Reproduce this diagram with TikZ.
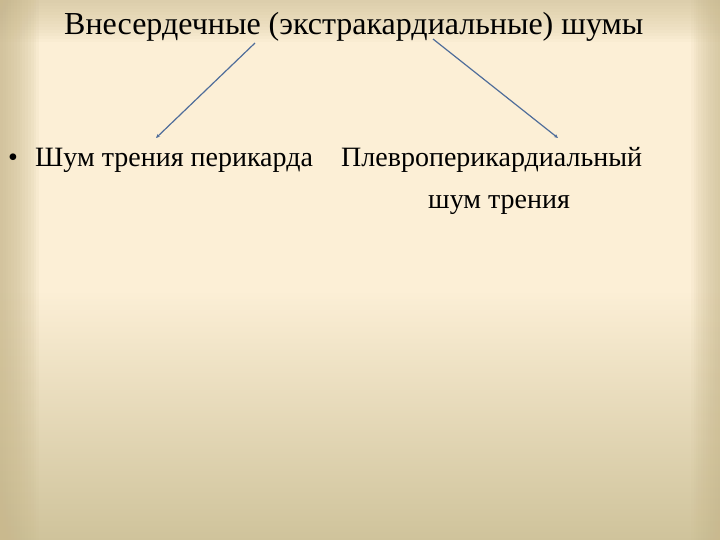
\documentclass[tikz,border=0pt]{standalone}
\usepackage{fontspec}
\setmainfont{Liberation Serif}
\usetikzlibrary{arrows.meta}
\definecolor{cream}{HTML}{FCEFD6}
\definecolor{tan}{HTML}{C9B98E}
\definecolor{bot}{HTML}{CFC39B}
\definecolor{arrowblue}{HTML}{4F6D9A}
\tikzset{
  txt/.style={font=\fontsize{28}{34}\selectfont, text=black, inner sep=0pt, anchor=base west},
  conn/.style={draw=arrowblue, line width=1.2pt, -{Stealth[length=4pt,width=3.5pt]}}
}
\begin{document}
\begin{tikzpicture}[x=1pt,y=-1pt]
\useasboundingbox (0,0) rectangle (720,540);
% background
\fill[cream] (0,0) rectangle (720,540);
\shade[top color=cream, bottom color=bot] (0,290) rectangle (720,540);
\foreach \i in {1,...,14} \fill[tan, fill opacity=0.09] (0,0) rectangle (\i*2.8,540);
\foreach \i in {1,...,14} \fill[tan, fill opacity=0.05] (0,0) rectangle (720,\i*3);
\foreach \i in {1,...,12} \fill[tan, fill opacity=0.08] (720-\i*2.4,0) rectangle (720,540);
% texts
\node[txt, font=\fontsize{32}{38}\selectfont] (title) at (64,35) {Внесердечные (экстракардиальные) шумы};
\node[txt] (bul) at (8,167) {•};
\node[txt] (left) at (35,167) {Шум трения перикарда};
\node[txt] (right1) at (341,167) {Плевроперикардиальный};
\node[txt] (right2) at (428,208) {шум трения};
% connectors
\coordinate (ls) at (255,43);
\coordinate (le) at (156,138);
\coordinate (rs) at (433,39);
\coordinate (re) at (558,138);
\draw[conn] (ls) -- (le);
\draw[conn] (rs) -- (re);
\end{tikzpicture}
\end{document}
